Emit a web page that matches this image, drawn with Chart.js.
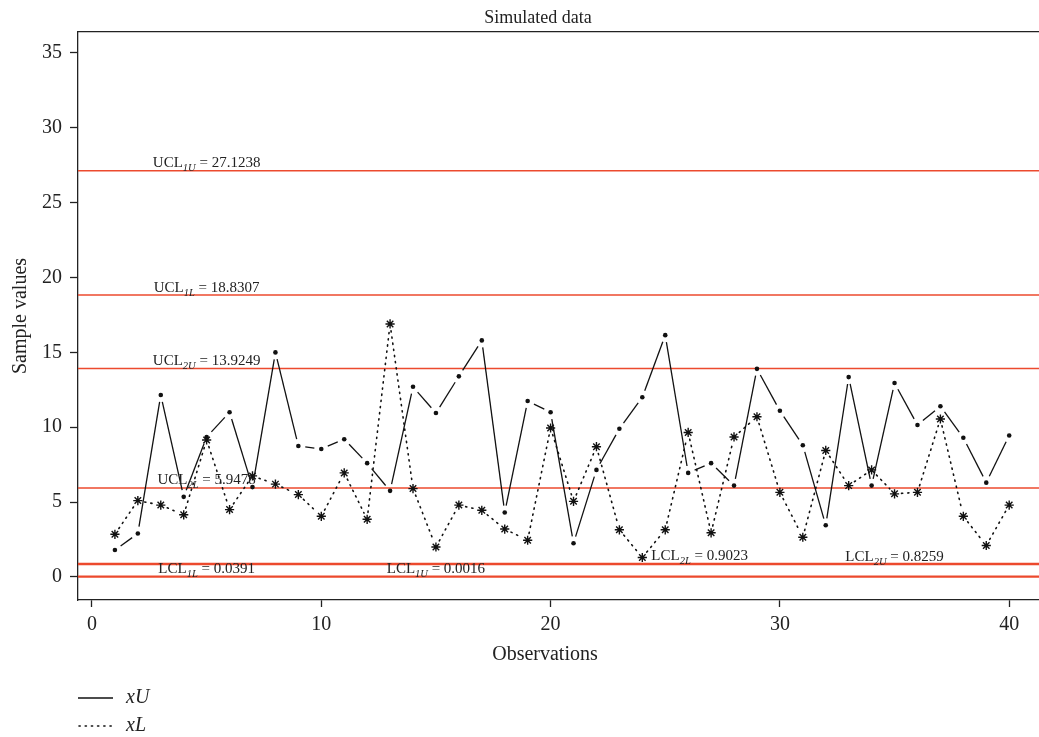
<!DOCTYPE html>
<html>
  <head>
    <meta charset="utf-8">
    <script src="https://cdn.jsdelivr.net/npm/chart.js"></script>
    <style>
      body { margin: 0; background: #fff; }
      #chart_div { width: 1039px; height: 737px; }
    </style>
  </head>
  <body>
    <div id="chart_div"><canvas id="simChart" width="1039" height="737"></canvas></div>

    <script type="text/javascript">
      // observation index
      var observations = [1,2,3,4,5,6,7,8,9,10,11,12,13,14,15,16,17,18,19,20,
                          21,22,23,24,25,26,27,28,29,30,31,32,33,34,35,36,37,38,39,40];

      // series values
      var xU = [1.8, 2.9, 12.15, 5.35, 9.35, 11.0, 6.0, 15.0, 8.75, 8.55,
                9.2, 7.6, 5.75, 12.7, 10.95, 13.4, 15.8, 4.3, 11.75, 11.0,
                2.25, 7.15, 9.9, 12.0, 16.15, 6.95, 7.6, 6.1, 13.9, 11.1,
                8.8, 3.45, 13.35, 6.1, 12.95, 10.15, 11.4, 9.3, 6.3, 9.45];
      var xL = [2.85, 5.1, 4.8, 4.15, 9.15, 4.5, 6.75, 6.2, 5.5, 4.05,
                6.95, 3.85, 16.9, 5.9, 2.0, 4.8, 4.45, 3.2, 2.45, 9.95,
                5.05, 8.7, 3.15, 1.3, 3.15, 9.65, 2.95, 9.35, 10.7, 5.65,
                2.65, 8.45, 6.1, 7.15, 5.55, 5.65, 10.55, 4.05, 2.1, 4.8];

      // control limits
      var limitNames  = ["UCL", "UCL", "UCL", "UCL", "LCL", "LCL", "LCL", "LCL"];
      var limitSubs   = ["1U", "1L", "2U", "2L", "1L", "1U", "2L", "2U"];
      var limitValues = [27.1238, 18.8307, 13.9249, 5.9478, 0.0391, 0.0016, 0.9023, 0.8259];
      var limitLabelX = [5, 5, 5, 5, 5, 15, 26.5, 35];

      var xTicks = [0, 10, 20, 30, 40];
      var yTicks = [0, 5, 10, 15, 20, 25, 30, 35];

      var serif = "'Liberation Serif', 'Times New Roman', serif";
      var red = "#ec4a2e";

      function toPoints(ys) {
        return observations.map(function (o, i) { return {x: o, y: ys[i]}; });
      }

      // R type="b" style: line segments that stop short of each point
      var gappedLines = {
        id: "gappedLines",
        beforeDatasetsDraw: function (chart) {
          var ctx = chart.ctx;
          var area = chart.chartArea;
          ctx.save();
          ctx.beginPath();
          ctx.rect(area.left, area.top, area.right - area.left, area.bottom - area.top);
          ctx.clip();

          // horizontal limit lines
          ctx.strokeStyle = red;
          ctx.lineWidth = 1.5;
          limitValues.forEach(function (v) {
            var py = chart.scales.y.getPixelForValue(v);
            ctx.beginPath();
            ctx.moveTo(area.left, py);
            ctx.lineTo(area.right, py);
            ctx.stroke();
          });

          chart.data.datasets.forEach(function (ds, di) {
            var pts = chart.getDatasetMeta(di).data;
            var gap = ds.gap;
            ctx.strokeStyle = "#111";
            ctx.lineWidth = ds.dashed ? 1.6 : 1.3;
            ctx.setLineDash(ds.dashed ? [1.2, 5] : []);
            ctx.lineCap = ds.dashed ? "round" : "butt";
            for (var i = 1; i < pts.length; i++) {
              var a = pts[i - 1], b = pts[i];
              var dx = b.x - a.x, dy = b.y - a.y;
              var len = Math.sqrt(dx * dx + dy * dy);
              if (len <= 2 * gap) continue;
              var ux = dx / len, uy = dy / len;
              ctx.beginPath();
              ctx.moveTo(a.x + ux * gap, a.y + uy * gap);
              ctx.lineTo(b.x - ux * gap, b.y - uy * gap);
              ctx.stroke();
            }
          });
          ctx.restore();
        },
        afterDraw: function (chart) {
          var ctx = chart.ctx;
          var area = chart.chartArea;
          ctx.save();
          ctx.fillStyle = "#222";
          ctx.textBaseline = "alphabetic";

          // limit labels
          limitValues.forEach(function (v, i) {
            var py = chart.scales.y.getPixelForValue(v) - 3.5;
            var cx = chart.scales.x.getPixelForValue(limitLabelX[i]);
            var main = limitNames[i];
            var rest = " = " + v.toFixed(4);
            ctx.font = "15px " + serif;
            var w1 = ctx.measureText(main).width;
            var w3 = ctx.measureText(rest).width;
            ctx.font = "italic 10.5px " + serif;
            var w2 = ctx.measureText(limitSubs[i]).width;
            var x0 = cx - (w1 + w2 + w3) / 2;
            ctx.font = "15px " + serif;
            ctx.fillText(main, x0, py);
            ctx.fillText(rest, x0 + w1 + w2, py);
            ctx.font = "italic 10.5px " + serif;
            ctx.fillText(limitSubs[i], x0 + w1, py + 4);
          });

          // titles
          ctx.fillStyle = "#222";
          ctx.textAlign = "center";
          ctx.font = "18px " + serif;
          ctx.fillText("Simulated data", 538, 23);
          ctx.font = "20px " + serif;
          ctx.fillText("Observations", 545, 660);
          ctx.save();
          ctx.translate(26, (area.top + area.bottom) / 2);
          ctx.rotate(-Math.PI / 2);
          ctx.fillText("Sample values", 0, 0);
          ctx.restore();

          // legend
          ctx.textAlign = "left";
          ctx.font = "italic 20px " + serif;
          ctx.fillText("xU", 126, 703);
          ctx.fillText("xL", 126, 731);
          ctx.strokeStyle = "#111";
          ctx.lineWidth = 1.3;
          ctx.beginPath();
          ctx.moveTo(78, 698);
          ctx.lineTo(113, 698);
          ctx.stroke();
          ctx.lineWidth = 1.6;
          ctx.lineCap = "round";
          ctx.setLineDash([1.2, 5]);
          ctx.beginPath();
          ctx.moveTo(79, 726);
          ctx.lineTo(113, 726);
          ctx.stroke();
          ctx.restore();
        }
      };

      function drawChart() {
        var ctx = document.getElementById("simChart");

        new Chart(ctx, {
          type: "line",
          data: {
            datasets: [{
              label: "xU",
              data: toPoints(xU),
              showLine: false,
              pointStyle: "circle",
              pointRadius: 2.3,
              pointBackgroundColor: "#111",
              pointBorderColor: "#111",
              pointBorderWidth: 0,
              gap: 7,
              dashed: false
            }, {
              label: "xL",
              data: toPoints(xL),
              showLine: false,
              pointStyle: "star",
              pointRadius: 4.6,
              pointBorderColor: "#111",
              pointBorderWidth: 1.4,
              gap: 7,
              dashed: true
            }]
          },
          plugins: [gappedLines],
          options: {
            responsive: false,
            animation: false,
            events: [],
            layout: { autoPadding: false, padding: { left: 0, top: 32, right: 0, bottom: 0 } },
            plugins: {
              legend: { display: false },
              tooltip: { enabled: false }
            },
            scales: {
              x: {
                type: "linear",
                position: "bottom",
                min: -0.61,
                max: 41.3,
                afterFit: function (s) { s.height = 137; s.paddingLeft = 0; s.paddingRight = 0; },
                afterBuildTicks: function (s) { s.ticks = xTicks.map(function (v) { return {value: v}; }); },
                grid: { drawOnChartArea: false, drawTicks: true, tickLength: 7, tickColor: "#222", tickWidth: 1.3 },
                border: { display: true, color: "#222", width: 1.3 },
                ticks: { color: "#222", padding: 6, font: { family: serif, size: 20 }, maxRotation: 0 }
              },
              xTop: {
                type: "linear",
                position: "top",
                min: -0.61,
                max: 41.3,
                afterFit: function (s) { s.height = 0; s.paddingLeft = 0; s.paddingRight = 0; },
                grid: { display: false },
                border: { display: true, color: "#222", width: 1.3 },
                ticks: { display: false }
              },
              y: {
                type: "linear",
                min: -1.54,
                max: 36.4,
                afterFit: function (s) { s.width = 78; s.paddingTop = 0; s.paddingBottom = 0; },
                afterBuildTicks: function (s) { s.ticks = yTicks.map(function (v) { return {value: v}; }); },
                grid: { drawOnChartArea: false, drawTicks: true, tickLength: 8, tickColor: "#222", tickWidth: 1.3 },
                border: { display: true, color: "#222", width: 1.3 },
                ticks: { color: "#222", padding: 8, font: { family: serif, size: 20 } }
              }
            }
          }
        });
      }

      drawChart();
    </script>
  </body>
</html>
